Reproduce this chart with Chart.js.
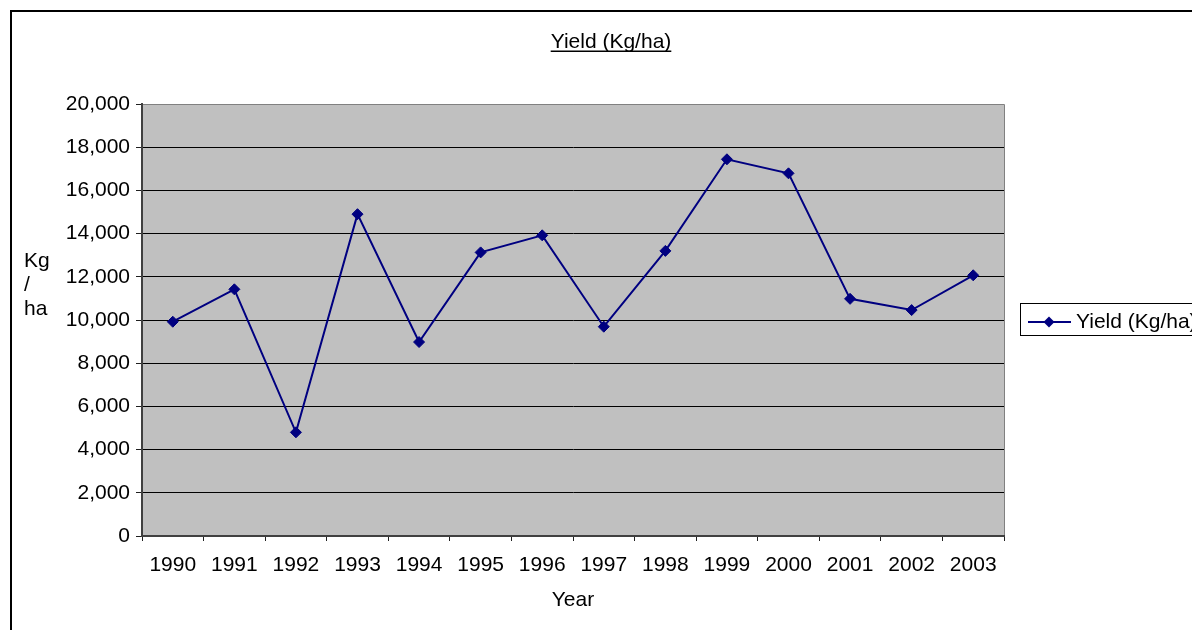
<!DOCTYPE html>
<html>
<head>
<meta charset="utf-8">
<script src="https://cdn.jsdelivr.net/npm/chart.js@4"></script>
<style>
  html, body { margin: 0; padding: 0; background: #fff; overflow: hidden; }
  #wrap { position: relative; width: 1192px; height: 630px; }
</style>
</head>
<body>
<div id="wrap"><canvas id="yieldChart" width="1192" height="630"></canvas></div>
<script>
const years = ['1990', '1991', '1992', '1993', '1994', '1995', '1996', '1997', '1998', '1999', '2000', '2001', '2002', '2003'];
const yieldKgHa = [9920, 11420, 4800, 14900, 8980, 13130, 13920, 9690, 13200, 17440, 16790, 10980, 10460, 12070];
const yTitleLines = ['Kg', '/', 'ha'];
const chartTitle = 'Yield (Kg/ha)';
const seriesLabel = 'Yield (Kg/ha)';

const FONT = '"Liberation Sans", Arial, sans-serif';
const FS = 21;
const NAVY = '#000080';

// background, frame, title, y label and legend, drawn the excel way
const excelLook = {
  id: 'excelLook',
  beforeDraw(chart) {
    const { ctx, chartArea: a } = chart;
    ctx.save();
    ctx.fillStyle = '#c0c0c0';
    ctx.fillRect(a.left, a.top, a.right - a.left, a.bottom - a.top);
    ctx.strokeStyle = '#808080';
    ctx.lineWidth = 1;
    ctx.beginPath();
    ctx.moveTo(a.left, a.top + 0.5);
    ctx.lineTo(a.right + 0.5, a.top + 0.5);
    ctx.lineTo(a.right + 0.5, a.bottom);
    ctx.stroke();
    ctx.restore();
  },
  afterDraw(chart) {
    const ctx = chart.ctx;
    ctx.save();
    // outer frame (cut off on the right and bottom)
    ctx.fillStyle = '#000';
    ctx.fillRect(10, 10, 2, 620);
    ctx.fillRect(10, 10, 1182, 2);

    // title with underline
    ctx.font = FS + 'px ' + FONT;
    ctx.fillStyle = '#000';
    ctx.textAlign = 'center';
    ctx.textBaseline = 'alphabetic';
    ctx.fillText(chartTitle, 611, 48);
    const tw = ctx.measureText(chartTitle).width;
    ctx.fillRect(611 - tw / 2, 50.5, tw, 1.5);

    // stacked y axis title
    ctx.textAlign = 'left';
    yTitleLines.forEach((t, i) => ctx.fillText(t, 24, 267 + i * 24));

    // legend box
    ctx.strokeStyle = '#000';
    ctx.lineWidth = 1;
    ctx.strokeRect(1020.5, 303.5, 260, 32);
    ctx.strokeStyle = NAVY;
    ctx.lineWidth = 2;
    ctx.beginPath();
    ctx.moveTo(1028, 322);
    ctx.lineTo(1071, 322);
    ctx.stroke();
    ctx.fillStyle = NAVY;
    ctx.beginPath();
    ctx.moveTo(1049, 316.5);
    ctx.lineTo(1054.5, 322);
    ctx.lineTo(1049, 327.5);
    ctx.lineTo(1043.5, 322);
    ctx.closePath();
    ctx.fill();
    ctx.fillStyle = '#000';
    ctx.fillText(seriesLabel, 1076, 328);
    ctx.restore();
  }
};

document.addEventListener("DOMContentLoaded", () => {
  const ctx = document.getElementById('yieldChart').getContext('2d');
  new Chart(ctx, {
    type: 'line',
    data: {
      labels: years,
      datasets: [{
        label: seriesLabel,
        data: yieldKgHa,
        borderColor: NAVY,
        borderWidth: 2,
        backgroundColor: NAVY,
        pointStyle: 'rectRot',
        pointRadius: 5.5,
        pointBorderWidth: 1,
        pointBorderColor: NAVY,
        pointBackgroundColor: NAVY,
        tension: 0,
        fill: false
      }]
    },
    options: {
      responsive: false,
      animation: false,
      locale: 'en-US',
      layout: { padding: { top: 104, right: 188, left: 0, bottom: 0 } },
      plugins: {
        legend: { display: false },
        title: { display: false },
        tooltip: { enabled: false }
      },
      scales: {
        x: {
          type: 'category',
          offset: true,
          afterFit: (scale) => { scale.height = 94; },
          grid: {
            offset: true,
            drawOnChartArea: false,
            drawTicks: true,
            tickLength: 5,
            tickColor: '#202020',
            color: '#202020'
          },
          border: { color: '#404040', width: 2 },
          ticks: {
            color: '#000',
            font: { family: FONT, size: FS },
            maxRotation: 0,
            autoSkip: false,
            padding: 12
          },
          title: {
            display: true,
            text: 'Year',
            color: '#000',
            font: { family: FONT, size: FS },
            padding: { top: 0, bottom: 17 }
          }
        },
        y: {
          min: 0,
          max: 20000,
          afterFit: (scale) => { scale.width = 142; },
          grid: {
            color: (c) => (c.tick && c.tick.value === 20000 ? '#808080' : '#000'),
            tickColor: '#202020',
            tickLength: 6,
            lineWidth: 1
          },
          border: { color: '#404040', width: 2 },
          ticks: {
            stepSize: 2000,
            color: '#000',
            font: { family: FONT, size: FS },
            padding: 6
          }
        }
      }
    },
    plugins: [excelLook]
  });
});
</script>
</body>
</html>
